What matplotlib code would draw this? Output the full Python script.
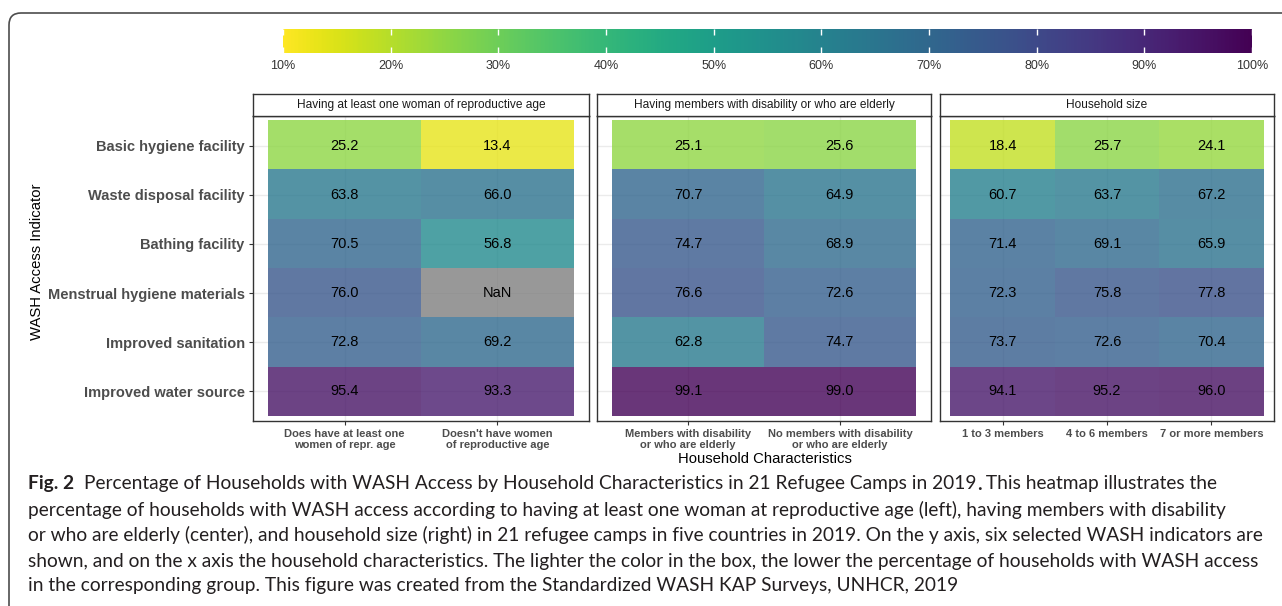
import matplotlib
matplotlib.use('Agg')
import matplotlib.pyplot as plt
from matplotlib.patches import FancyBboxPatch
from matplotlib.transforms import IdentityTransform
import numpy as np

W, H = 1282, 606

indicators = [
    "Basic hygiene facility",
    "Waste disposal facility",
    "Bathing facility",
    "Menstrual hygiene materials",
    "Improved sanitation",
    "Improved water source",
]

panel_titles = [
    "Having at least one woman of reproductive age",
    "Having members with disability or who are elderly",
    "Household size",
]

women_groups = ["Does have at least one\nwomen of repr. age",
                "Doesn't have women\nof reproductive age"]
women_vals = [
    [25.2, 63.8, 70.5, 76.0, 72.8, 95.4],
    [13.4, 66.0, 56.8, np.nan, 69.2, 93.3],
]

disab_groups = ["Members with disability\nor who are elderly",
                "No members with disability\nor who are elderly"]
disab_vals = [
    [25.1, 70.7, 74.7, 76.6, 62.8, 99.1],
    [25.6, 64.9, 68.9, 72.6, 74.7, 99.0],
]

size_groups = ["1 to 3 members", "4 to 6 members", "7 or more members"]
size_vals = [
    [18.4, 60.7, 71.4, 72.3, 73.7, 94.1],
    [25.7, 63.7, 69.1, 75.8, 72.6, 95.2],
    [24.1, 67.2, 65.9, 77.8, 70.4, 96.0],
]

cbar_ticks = [10, 20, 30, 40, 50, 60, 70, 80, 90, 100]

caption_lines = [
    [("Fig. 2", "bold"), ("Percentage of Households with WASH Access by Household Characteristics in 21 Refugee Camps in 2019", "normal"),
     (".", "bold"), (" This heatmap illustrates the", "normal")],
    [("percentage of households with WASH access according to having at least one woman at reproductive age (left), having members with disability", "normal")],
    [("or who are elderly (center), and household size (right) in 21 refugee camps in five countries in 2019. On the y axis, six selected WASH indicators are", "normal")],
    [("shown, and on the x axis the household characteristics. The lighter the color in the box, the lower the percentage of households with WASH access", "normal")],
    [("in the corresponding group. This figure was created from the Standardized WASH KAP Surveys, UNHCR, 2019", "normal")],
]

cmap = plt.get_cmap('viridis_r').copy()
cmap.set_bad('#7F7F7F')
norm = matplotlib.colors.Normalize(vmin=10, vmax=100)

fig = plt.figure(figsize=(W / 100, H / 100), dpi=100)
fig.patch.set_facecolor('white')


def px_axes(x0, y0, x1, y1):
    # pixel box (top-left origin) -> figure axes
    return fig.add_axes([x0 / W, 1 - y1 / H, (x1 - x0) / W, (y1 - y0) / H])


# outer frame (cropped at right / bottom)
frame = FancyBboxPatch((9, -60), 1400, 593 + 60,
                       boxstyle="round,pad=0,rounding_size=12",
                       transform=IdentityTransform(), fill=False,
                       edgecolor='#4D4D4D', linewidth=1.2)
fig.patches.append(frame)

# colour bar
cax = px_axes(283, 29, 1252, 53)
grad = np.linspace(10, 100, 500).reshape(1, -1)
cax.imshow(grad, cmap=cmap, norm=norm, aspect='auto', extent=[10, 100, 0, 1])
cax.set_xlim(10, 100)
cax.set_yticks([])
cax.set_xticks(cbar_ticks)
cax.set_xticklabels([f"{t}%" for t in cbar_ticks], fontsize=9, color='#333333',
                    family='Liberation Sans')
cax.tick_params(axis='x', direction='in', length=4, width=1, color='white',
                top=True, bottom=True, pad=5)
for s in cax.spines.values():
    s.set_visible(False)

panels = [
    (women_groups, women_vals, 253, 589),
    (disab_groups, disab_vals, 597, 931),
    (size_groups, size_vals, 940, 1274),
]

for i, (groups, vals, x0, x1) in enumerate(panels):
    ax = px_axes(x0, 116, x1, 421)
    data = np.array(vals).T
    n = len(groups)
    ax.grid(True, color='#EBEBEB', linewidth=1, zorder=0)
    ax.set_axisbelow(True)
    ax.imshow(np.ma.masked_invalid(data), cmap=cmap, norm=norm, alpha=0.8,
              aspect='auto', interpolation='nearest',
              extent=[-0.5, n - 0.5, len(indicators) - 0.5, -0.5], zorder=1)
    for r in range(len(indicators)):
        for c in range(n):
            v = data[r, c]
            ax.text(c, r, "NaN" if np.isnan(v) else f"{v:.1f}",
                    ha='center', va='center', fontsize=10.5, color='black',
                    family='Liberation Sans', zorder=3)
    ax.set_xlim(-0.6, n - 0.4)
    ax.set_ylim(len(indicators) - 0.4, -0.6)
    ax.set_xticks(range(n))
    ax.set_xticklabels(groups, fontsize=8, fontweight='bold', color='#4D4D4D',
                       family='Liberation Sans', linespacing=1.1)
    ax.set_yticks(range(len(indicators)))
    ax.tick_params(color='#333333', length=3, width=0.8, pad=3)
    if i == 0:
        ax.set_yticklabels(indicators, fontsize=10.5, fontweight='bold',
                           color='#4D4D4D', family='Liberation Sans')
    else:
        ax.set_yticklabels([])
        ax.tick_params(axis='y', length=0)
    for s in ax.spines.values():
        s.set_color('#333333')
        s.set_linewidth(1)

    # facet strip
    sax = px_axes(x0, 94, x1, 116)
    sax.set_xticks([])
    sax.set_yticks([])
    for s in sax.spines.values():
        s.set_color('#333333')
        s.set_linewidth(1)
    sax.text(0.5, 0.5, panel_titles[i], ha='center', va='center', fontsize=8.6,
             color='#1A1A1A', family='Liberation Sans', transform=sax.transAxes)

fig.text(37 / W, 1 - 262 / H, "WASH Access Indicator", rotation=90,
         ha='center', va='center', fontsize=10.7, family='Liberation Sans')
fig.text(765 / W, 1 - 459 / H, "Household Characteristics", ha='center',
         va='center', fontsize=10.7, family='Liberation Sans')

# caption: fit font size to measured line width
renderer = fig.canvas.get_renderer()
probe = fig.text(0, 0, caption_lines[3][0][0], fontsize=10, family='Lato')
cap_fs = 10 * (1264 - 28) / probe.get_window_extent(renderer).width
probe.remove()

line_y = [484, 510, 535, 561, 586]
for segs, y in zip(caption_lines, line_y):
    x = 28
    for j, (txt, wt) in enumerate(segs):
        t = fig.text(x / W, 1 - y / H, txt, fontsize=cap_fs, fontweight=wt,
                     family='Lato', va='center', ha='left', color='#231F20')
        x += t.get_window_extent(renderer).width
        if j == 0 and wt == 'bold' and txt.startswith("Fig"):
            x += 10

fig.savefig('out.png', dpi=100)
